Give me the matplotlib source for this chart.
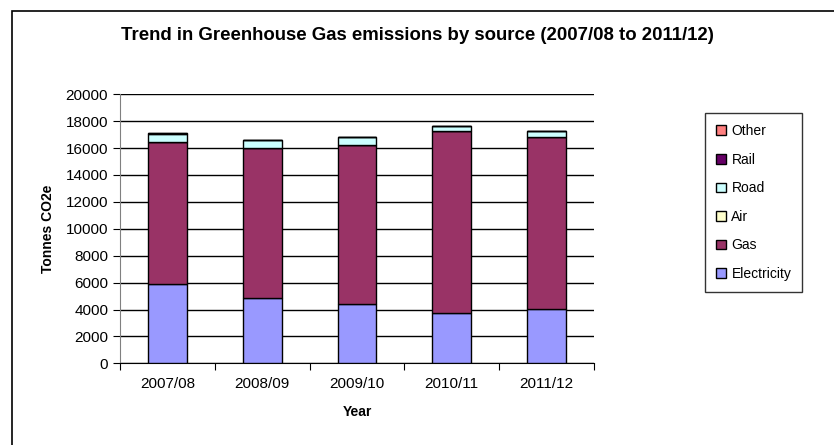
import numpy as np
import matplotlib.pyplot as plt
from matplotlib.patches import Rectangle

plt.rcParams['font.family'] = ['Liberation Sans', 'DejaVu Sans']

years = ["2007/08", "2008/09", "2009/10", "2010/11", "2011/12"]
sources = ["Electricity", "Gas", "Air", "Road", "Rail", "Other"]
electricity = [5870, 4830, 4390, 3720, 4040]
gas = [10560, 11180, 11840, 13550, 12770]
air = [20, 20, 20, 20, 20]
road = [630, 580, 580, 330, 450]
rail = [20, 20, 20, 20, 20]
other = [5, 5, 5, 5, 5]
colors = ["#9999FF", "#993366", "#FFFFCC", "#CCFFFF", "#660066", "#FF8080"]

series = [electricity, gas, air, road, rail, other]

fig = plt.figure(figsize=(8.34, 4.45), dpi=100)
fig.patches.append(Rectangle((12 / 834, -0.1), 1.0, 1 - 11 / 445 + 0.1,
                             transform=fig.transFigure, fill=False,
                             edgecolor="black", linewidth=1.2))
ax = fig.add_axes([120 / 834, 1 - 363.3 / 445, 474 / 834, 269 / 445])

x = np.arange(len(years))
bottom = np.zeros(len(years))
handles = []
for name, vals, c in zip(sources, series, colors):
    b = ax.bar(x, vals, 0.41, bottom=bottom, color=c, edgecolor="black",
               linewidth=1, label=name, zorder=3)
    handles.append(b)
    bottom += np.array(vals)

ax.set_xlim(-0.5, len(years) - 0.5)
ax.set_ylim(0, 20000)
ax.set_yticks(range(0, 20001, 2000))
ax.set_xticks(np.arange(-0.5, len(years), 1), minor=False)
ax.set_xticklabels([])
ax.set_xticks(x, minor=True)
ax.set_xticklabels(years, minor=True, fontsize=11)
ax.tick_params(axis="x", which="minor", length=0, pad=10)
ax.tick_params(axis="x", which="major", length=5, direction="out", color="black")
ax.tick_params(axis="y", length=5, direction="out", labelsize=11, color="black")
ax.yaxis.grid(True, color="black", linewidth=1, zorder=0)
ax.set_axisbelow(True)
for s in ["top", "right"]:
    ax.spines[s].set_visible(False)
ax.spines["left"].set_color("#808080")
ax.spines["bottom"].set_color("black")

ax.set_xlabel("Year", fontsize=10, fontweight="bold", labelpad=10)
ax.set_ylabel("Tonnes CO2e", fontsize=10, fontweight="bold", labelpad=8)
fig.text(0.5 * (118 + 717) / 834, 1 - 35 / 445,
         "Trend in Greenhouse Gas emissions by source (2007/08 to 2011/12)",
         ha="center", va="center", fontsize=13.4, fontweight="bold")

leg = fig.legend(handles[::-1], sources[::-1], loc="upper left",
                 bbox_to_anchor=(705 / 834, 1 - 113 / 445), frameon=True,
                 fancybox=False, edgecolor="black", fontsize=10,
                 handlelength=0.7, handleheight=0.7, handletextpad=0.4,
                 labelspacing=1.05, borderpad=0.8, borderaxespad=0)
leg.get_frame().set_linewidth(1)

fig.savefig("out.png", dpi=100)
